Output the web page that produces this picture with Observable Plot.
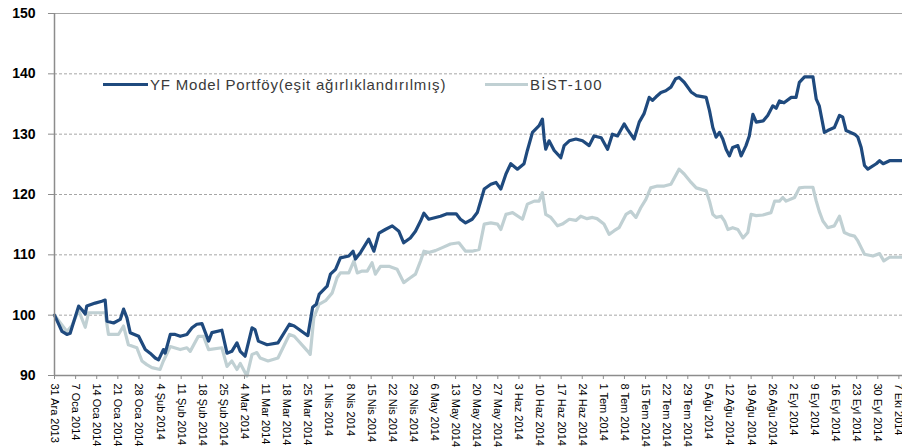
<!DOCTYPE html>
<html>
<head>
<meta charset="utf-8">
<script src="https://cdn.jsdelivr.net/npm/d3@7"></script>
<script src="https://cdn.jsdelivr.net/npm/@observablehq/plot@0.6"></script>
<style>
  html, body { margin: 0; padding: 0; background: #fff; }
  #wrap { position: relative; width: 902px; height: 447px; font-family: "Liberation Sans", Arial, sans-serif; }
  .leg { position: absolute; top: 75px; height: 18px; display: flex; align-items: center; font-size: 15px; color: #3a3a3a; white-space: nowrap; }
  .leg .sw { display: inline-block; height: 3px; margin-right: 2px; }
</style>
</head>
<body>
<div id="wrap"></div>
<script>
// Day offset from 31 Ara 2013, index value
const seriesNames = ["YF Model Portföy(eşit ağırlıklandırılmış)", "BİST-100"];
const seriesColors = ["#1f4a7e", "#c0d0d3"];

const modelPortfoy = [
  [0,100.0],[2.5,97.3],[4.1,96.8],[5.2,97.0],[8.0,101.5],[9.1,100.9],[10.2,100.2],[10.7,101.5],[13.5,102.0],[15.7,102.3],
  [16.8,102.5],[17.4,99.0],[19.6,98.7],[21.8,99.3],[22.9,101.0],[24.0,99.6],[25.1,97.1],[27.9,96.5],[30.1,94.3],[31.7,93.7],
  [33.4,92.9],[34.5,92.6],[36.1,94.3],[36.7,93.7],[38.4,96.8],[40.0,96.8],[41.7,96.5],[43.9,96.8],[45.6,97.9],[47.2,98.5],
  [48.9,98.6],[51.1,95.7],[52.2,97.1],[55.5,97.5],[57.2,93.7],[58.8,94.0],[60.5,95.4],[61.6,94.0],[63.2,93.2],[65.5,97.9],
  [66.5,97.6],[67.6,95.7],[70.5,95.1],[74.1,95.4],[77.9,98.5],[79.5,98.2],[84.0,96.6],[85.6,101.3],[86.8,101.8],[87.8,103.5],
  [90.4,104.8],[91.5,106.8],[93.2,107.6],[94.8,109.5],[97.6,109.8],[99.0,110.6],[99.8,109.3],[101.5,110.4],[104.2,112.6],[105.9,110.6],
  [107.6,113.6],[109.7,114.2],[112.0,114.8],[114.2,113.9],[115.8,112.0],[118.0,112.8],[119.7,113.9],[121.4,115.6],[122.5,116.9],[124.1,115.9],
  [128.0,116.4],[130.2,116.8],[133.2,116.8],[134.6,115.9],[136.3,115.3],[138.5,115.9],[140.2,117.0],[142.5,120.9],[144.7,121.7],[146.4,122.0],
  [148.0,120.9],[149.7,123.4],[151.3,125.1],[153.5,124.2],[155.7,125.1],[156.8,127.3],[158.5,130.3],[160.7,131.4],[161.8,132.5],[162.4,129.2],
  [162.9,127.5],[164.0,128.9],[165.7,127.3],[167.9,126.1],[169.0,128.1],[170.7,128.9],[172.9,129.2],[175.1,128.9],[177.3,128.1],[178.9,129.7],
  [181.3,129.4],[183.4,127.5],[185.0,130.0],[186.7,129.7],[188.9,131.7],[190.0,130.8],[192.2,129.2],[193.9,132.0],[195.5,133.4],[197.2,136.1],
  [198.3,135.6],[199.5,136.2],[201.1,136.9],[202.7,137.2],[204.4,137.8],[206.0,139.2],[207.1,139.4],[208.8,138.6],[211.1,137.0],[212.8,136.4],
  [216.1,136.1],[217.2,133.9],[218.3,131.1],[219.4,129.5],[220.5,130.3],[221.6,129.2],[222.7,127.5],[223.8,126.4],[224.9,127.8],[226.6,128.1],
  [227.7,126.4],[229.3,128.1],[230.4,129.7],[231.6,133.3],[232.7,132.0],[235.0,132.2],[236.5,133.1],[238.2,134.7],[239.3,134.3],[240.4,135.5],
  [241.9,135.2],[244.3,136.1],[245.9,136.1],[247.0,138.6],[248.7,139.5],[251.5,139.5],[252.6,135.8],[253.6,134.7],[255.3,130.3],[256.4,130.6],
  [258.6,131.1],[260.3,133.1],[261.4,132.8],[262.5,130.6],[265.3,130.0],[266.4,129.5],[267.5,127.8],[268.6,124.8],[269.7,124.2],[272.5,125.1],
  [273.6,125.6],[274.8,125.1],[276.9,125.6],[281.0,125.6]
];

const bist100 = [
  [0,100.0],[4.1,97.3],[5.8,98.3],[8.0,100.8],[10.2,98.0],[11.3,100.4],[15.7,100.4],[16.8,100.4],[17.9,96.8],[21.2,96.8],
  [22.9,98.2],[24.5,95.1],[27.3,94.6],[29.0,92.4],[30.6,91.8],[32.3,91.3],[35.0,91.0],[36.1,92.4],[38.4,94.8],[41.7,94.3],
  [43.9,94.6],[45.0,94.0],[47.7,96.5],[49.4,96.5],[51.1,94.3],[55.5,94.6],[57.2,91.5],[58.8,92.4],[60.5,91.0],[61.6,92.0],
  [63.8,89.9],[65.5,93.5],[67.1,93.8],[68.2,92.9],[70.8,92.4],[74.1,92.9],[77.9,96.8],[79.5,96.5],[84.0,94.0],[84.8,93.5],
  [86.0,99.6],[87.7,101.8],[89.9,102.4],[92.1,103.7],[93.7,106.2],[94.8,107.0],[97.6,107.0],[99.3,109.0],[100.4,107.0],[102.0,107.3],
  [103.7,107.3],[105.3,108.7],[106.4,106.8],[108.1,108.1],[110.9,108.1],[113.6,107.6],[115.8,105.4],[118.0,106.2],[119.7,106.8],[121.4,109.0],
  [122.5,110.6],[124.1,110.4],[126.3,110.7],[128.6,111.2],[131.3,111.8],[134.1,112.0],[136.3,110.6],[138.5,110.6],[140.8,110.9],[142.5,115.1],
  [144.7,115.3],[146.9,115.1],[148.0,114.2],[149.7,116.7],[151.9,117.0],[155.2,115.9],[156.8,118.4],[159.1,118.9],[160.7,118.9],[161.8,120.3],
  [162.9,116.7],[164.6,116.2],[166.8,114.8],[168.4,115.1],[170.7,115.9],[172.9,115.7],[174.5,116.4],[176.6,116.0],[178.4,116.2],[179.9,116.0],
  [182.2,115.1],[183.9,113.4],[185.6,114.0],[187.2,114.5],[189.5,116.7],[191.1,117.2],[192.8,116.2],[194.4,117.8],[196.1,119.2],[197.7,121.1],
  [199.9,121.4],[202.2,121.4],[204.4,121.7],[207.1,124.2],[208.8,123.4],[211.1,122.0],[212.8,121.1],[216.1,120.6],[217.2,118.9],[218.3,116.7],
  [219.4,116.2],[221.1,116.4],[222.2,115.6],[223.3,114.2],[224.9,114.5],[226.6,114.2],[228.3,112.8],[229.9,113.7],[231.0,116.7],[232.7,116.5],
  [234.9,116.6],[237.6,117.0],[238.8,118.9],[240.4,118.9],[241.5,119.5],[242.6,118.9],[245.4,119.5],[247.0,121.1],[248.7,121.2],[251.5,121.2],
  [252.6,118.9],[253.6,117.2],[254.8,115.6],[256.4,114.5],[258.6,114.8],[260.3,116.4],[261.9,113.7],[263.6,113.3],[265.3,113.1],[266.4,112.3],
  [267.5,111.2],[268.6,110.1],[271.4,109.8],[273.6,110.2],[275.0,109.0],[276.9,109.6],[281.0,109.6]
];

const tickLabels = [
  "31 Ara 2013","7 Oca 2014","14 Oca 2014","21 Oca 2014","28 Oca 2014","4 Şub 2014","11 Şub 2014","18 Şub 2014",
  "25 Şub 2014","4 Mar 2014","11 Mar 2014","18 Mar 2014","25 Mar 2014","1 Nis 2014","8 Nis 2014","15 Nis 2014",
  "22 Nis 2014","29 Nis 2014","6 May 2014","13 May 2014","20 May 2014","27 May 2014","3 Haz 2014","10 Haz 2014",
  "17 Haz 2014","24 Haz 2014","1 Tem 2014","8 Tem 2014","15 Tem 2014","22 Tem 2014","29 Tem 2014","5 Ağu 2014",
  "12 Ağu 2014","19 Ağu 2014","26 Ağu 2014","2 Eyl 2014","9 Eyl 2014","16 Eyl 2014","23 Eyl 2014","30 Eyl 2014","7 Eki 2014"
];
const yTicks = [90, 100, 110, 120, 130, 140, 150];
const gridValues = [100, 110, 120, 130, 140];

const base = Date.UTC(2013, 11, 31);
const DAY = 864e5;
const toDate = d => new Date(base + d * DAY);

const rows = [];
modelPortfoy.forEach(([d, v]) => rows.push({date: toDate(d), value: v, series: seriesNames[0]}));
bist100.forEach(([d, v]) => rows.push({date: toDate(d), value: v, series: seriesNames[1]}));

const tickDates = tickLabels.map((_, i) => toDate(i * 7));
const labelMap = new Map(tickDates.map((d, i) => [+d, tickLabels[i]]));

const font = '"Liberation Sans", Arial, sans-serif';

const chart = Plot.plot({
  width: 902,
  height: 447,
  marginTop: 13,
  marginBottom: 72,
  marginLeft: 54,
  marginRight: 0,
  style: {fontFamily: font, background: "#fff", color: "#000"},
  x: {type: "utc", domain: [toDate(0), toDate(281.2)]},
  y: {domain: [90, 150]},
  color: {domain: seriesNames, range: seriesColors},
  marks: [
    Plot.ruleY(gridValues, {stroke: "#a6a6a6", strokeWidth: 1, strokeDasharray: "3,2"}),
    Plot.ruleY([150], {x1: toDate(-2), x2: toDate(281.2), stroke: "#a6a6a6", strokeWidth: 1}),
    Plot.line(rows.filter(r => r.series === seriesNames[1]), {x: "date", y: "value", stroke: seriesColors[1], strokeWidth: 3.2, curve: "linear"}),
    Plot.line(rows.filter(r => r.series === seriesNames[0]), {x: "date", y: "value", stroke: seriesColors[0], strokeWidth: 3.2, curve: "linear"}),
    Plot.ruleX([toDate(0)], {y1: 90, y2: 150, stroke: "#8c8c8c", strokeWidth: 1.5}),
    Plot.ruleY([90], {stroke: "#8c8c8c", strokeWidth: 1.5}),
    Plot.axisY({ticks: yTicks, tickSize: 6, tickPadding: 13, stroke: "#8c8c8c", fontSize: 14, fontWeight: "bold", label: null, fill: "#000"}),
    Plot.axisX({ticks: tickDates, tickFormat: d => labelMap.get(+d) ?? "", tickRotate: 90, tickSize: 4, tickPadding: 4, stroke: "#8c8c8c", fontSize: 11, label: null, fill: "#000"})
  ]
});

const wrap = document.getElementById("wrap");
wrap.appendChild(chart);

const legendItems = [
  {left: 103, sw: 45, name: seriesNames[0], color: seriesColors[0], ls: 0.8},
  {left: 485, sw: 43, name: seriesNames[1], color: seriesColors[1], ls: 1.3}
];
legendItems.forEach(it => {
  const el = document.createElement("div");
  el.className = "leg";
  el.style.left = it.left + "px";
  const sw = document.createElement("span");
  sw.className = "sw";
  sw.style.width = it.sw + "px";
  sw.style.background = it.color;
  const tx = document.createElement("span");
  tx.textContent = it.name;
  tx.style.letterSpacing = it.ls + "px";
  el.appendChild(sw);
  el.appendChild(tx);
  wrap.appendChild(el);
});
</script>
</body>
</html>
